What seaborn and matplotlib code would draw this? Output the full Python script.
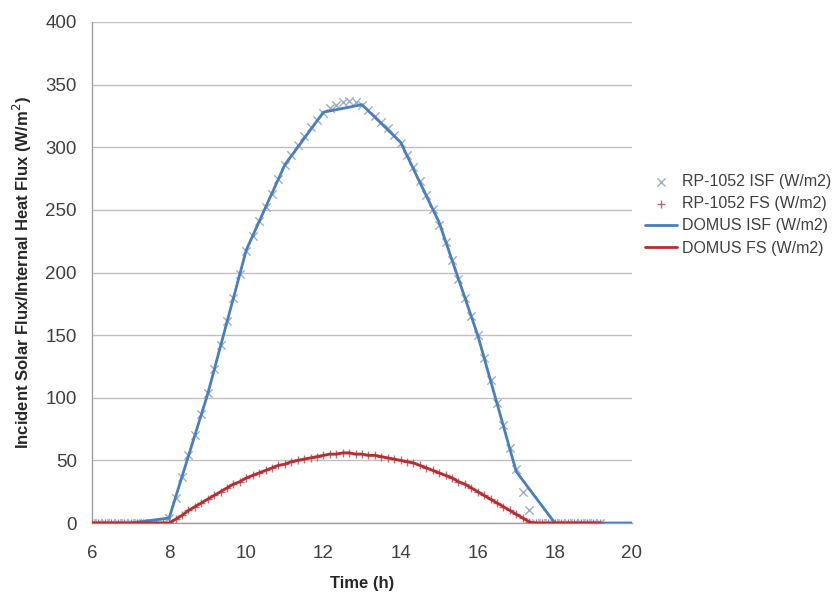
import numpy as np
import pandas as pd
import matplotlib
matplotlib.use("Agg")
import matplotlib.pyplot as plt
import seaborn as sns

# ---- data ----
# RP-1052 measurements every 10 minutes from 6:00 to 19:10
time_rp = np.round(np.arange(6 * 60, 19 * 60 + 11, 10) / 60.0, 4)

rp_isf = [0] * 12 + [
    4, 20, 37, 54, 70, 87, 104, 123, 142, 161, 180, 199,
    217, 229, 241, 252, 263, 275, 286, 294, 302, 309, 316, 322,
    327, 331, 334, 336, 337, 336, 334, 330, 325, 320, 315, 310,
    303,
    294, 284, 273, 262, 251, 238, 224, 210, 195, 180, 165,
    150, 132, 114, 96, 78, 60, 43, 25, 10,
] + [0] * 11

rp_fs = [0] * 12 + [
    0, 3, 6, 10, 13, 16, 19, 22, 25, 28, 31, 33,
    36, 38, 40, 42, 44, 46, 47, 49, 50, 51, 52, 53,
    54, 55, 55, 56, 56, 55, 55, 54, 54, 53, 52, 51,
    50, 49, 48, 46, 44, 42, 40, 38, 36, 33, 31, 28,
    25, 22, 19, 16, 13, 10, 7, 4, 1,
] + [0] * 11

domus_fs = [0] * 12 + [
    0, 3, 6, 10, 13, 16, 19, 22, 25, 28, 31, 33,
    36, 38, 40, 42, 44, 46, 47, 49, 50, 51, 52, 53,
    54, 55, 55, 56, 56, 55, 55, 54, 54, 53, 52, 51,
    50, 49, 48, 46, 44, 42, 40, 38, 36, 33, 31, 28,
    25, 22, 19, 16, 13, 10, 7, 4, 1,
] + [0] * 11

# DOMUS hourly incident solar flux
time_domus = [6, 7, 8, 9, 10, 11, 12, 13, 14, 15, 16, 17, 18, 19, 20]
domus_isf = [0, 0, 4, 103, 218, 286, 328, 334, 304, 240, 150, 41, 0, 0, 0]

x_ticks = [6, 8, 10, 12, 14, 16, 18, 20]
y_ticks = [0, 50, 100, 150, 200, 250, 300, 350, 400]

lab_rp_isf = "RP-1052 ISF (W/m2)"
lab_rp_fs = "RP-1052 FS (W/m2)"
lab_dm_isf = "DOMUS ISF (W/m2)"
lab_dm_fs = "DOMUS FS (W/m2)"

# ---- build frames ----
df_rp_isf = pd.DataFrame({"t": time_rp, "v": rp_isf})
df_rp_fs = pd.DataFrame({"t": time_rp, "v": rp_fs})
df_dm_isf = pd.DataFrame({"t": time_domus, "v": domus_isf})
df_dm_fs = pd.DataFrame({"t": time_rp, "v": domus_fs})

sns.set_style("white")
plt.rcParams["font.family"] = ["Liberation Sans", "DejaVu Sans"]

fig = plt.figure(figsize=(8.4, 5.98), dpi=100)
ax = fig.add_axes([92 / 840, 1 - 523 / 598, (632 - 92) / 840, (523 - 22) / 598])

c_isf_mark = "#9bb0c8"
c_fs_mark = "#b07080"
c_isf_line = "#4a7ebb"
c_fs_line = "#be2b2b"

sns.scatterplot(data=df_rp_isf, x="t", y="v", ax=ax, marker="x", color=c_isf_mark,
                s=36, linewidth=1.0, label=lab_rp_isf, zorder=3)
sns.scatterplot(data=df_rp_fs, x="t", y="v", ax=ax, marker="+", color=c_fs_mark,
                s=36, linewidth=1.0, label=lab_rp_fs, zorder=3)
sns.lineplot(data=df_dm_isf, x="t", y="v", ax=ax, color=c_isf_line, linewidth=2.0,
             label=lab_dm_isf, zorder=4)
sns.lineplot(data=df_dm_fs, x="t", y="v", ax=ax, color=c_fs_line, linewidth=2.0,
             label=lab_dm_fs, zorder=4)

ax.set_xlim(6, 20)
ax.set_ylim(0, 400)
ax.set_xticks(x_ticks)
ax.set_yticks(y_ticks)
ax.yaxis.grid(True, color="#c0c0c0", linewidth=1.0)
ax.xaxis.grid(False)
ax.set_axisbelow(True)
for s in ["top", "right"]:
    ax.spines[s].set_visible(False)
for s in ["left", "bottom"]:
    ax.spines[s].set_color("#a0a0a0")
    ax.spines[s].set_linewidth(1.0)
ax.tick_params(axis="both", which="major", direction="out", length=4, width=1,
               color="#a0a0a0", labelsize=13.5, labelcolor="#404040")
ax.tick_params(axis="x", pad=12)
ax.tick_params(axis="y", pad=7)

ax.set_xlabel("Time (h)", fontsize=12, fontweight="bold", labelpad=10)
ax.set_ylabel("Incident Solar Flux/Internal Heat Flux (W/m$^2$)", fontsize=12,
              fontweight="bold", labelpad=8)

handles, labels = ax.get_legend_handles_labels()
leg = ax.legend(handles, labels, loc="center left", bbox_to_anchor=(1.0, 0.615),
                frameon=False, fontsize=11.5, handlelength=2.0, handletextpad=0.3,
                labelspacing=0.45, labelcolor="#404040", borderaxespad=0.4)

fig.savefig("out.png", dpi=100)
